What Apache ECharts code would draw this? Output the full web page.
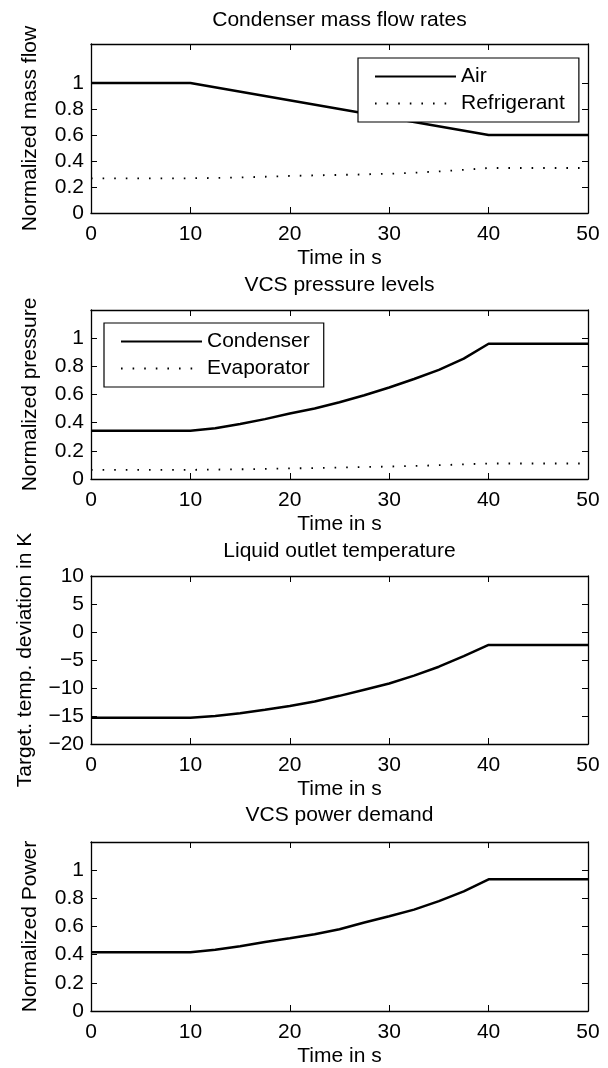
<!DOCTYPE html>
<html>
<head>
<meta charset="utf-8">
<script src="https://cdn.jsdelivr.net/npm/echarts@6/dist/echarts.min.js"></script>
<style>
  html, body { margin: 0; padding: 0; background: #fff; }
  #main { width: 608px; height: 1068px; }
</style>
</head>
<body>
<div id="main"></div>
<script>
// time grid of the curves (s)
var timeAir = [0, 10, 40, 50];
var airFlow = [1, 1, 0.6, 0.6];

var tCurve = [0, 10, 12.5, 15, 17.5, 20, 22.5, 25, 27.5, 30, 32.5, 35, 37.5, 40, 50];
var refrigerantFlow = [0.267, 0.267, 0.27, 0.274, 0.279, 0.285, 0.289, 0.293, 0.297, 0.302, 0.31, 0.32, 0.332, 0.346, 0.346];
var condenserPressure = [0.342, 0.342, 0.36, 0.39, 0.425, 0.465, 0.5, 0.545, 0.595, 0.65, 0.71, 0.775, 0.855, 0.96, 0.96];
var evaporatorPressure = [0.065, 0.065, 0.067, 0.069, 0.072, 0.075, 0.078, 0.081, 0.085, 0.088, 0.093, 0.098, 0.104, 0.11, 0.11];
var outletTempDev = [-15.3, -15.3, -15.0, -14.5, -13.9, -13.2, -12.4, -11.4, -10.3, -9.2, -7.8, -6.2, -4.3, -2.3, -2.3];
var powerDemand = [0.417, 0.417, 0.435, 0.46, 0.49, 0.516, 0.545, 0.58, 0.628, 0.673, 0.72, 0.78, 0.85, 0.935, 0.935];

// ticks
var xTicks = [0, 10, 20, 30, 40, 50];
var yTicksNorm = [0, 0.2, 0.4, 0.6, 0.8, 1];
var yTicksTemp = [-20, -15, -10, -5, 0, 5, 10];

var titles = ['Condenser mass flow rates', 'VCS pressure levels', 'Liquid outlet temperature', 'VCS power demand'];
var yNames = ['Normalized mass flow', 'Normalized pressure', 'Target. temp. deviation in K', 'Normalized Power'];
var xName = 'Time in s';

function pairs(t, v) {
  var out = [];
  for (var i = 0; i < t.length; i++) out.push([t[i], v[i]]);
  return out;
}

var font = 'Liberation Sans, Arial, Helvetica, sans-serif';
var gridTops = [44, 310, 576, 842];
var gridHeights = [169, 169, 168, 169];
var yMax = [1.3, 1.2, 10, 1.2];
var yMin = [0, 0, -20, 0];
var yTickSets = [yTicksNorm, yTicksNorm, yTicksTemp, yTicksNorm];
var titleTops = [10, 275, 541, 805];
var yNameGaps = [50, 50, 55, 50];

var myChart = echarts.init(document.getElementById('main'));

var grids = [], xAxes = [], yAxes = [], titleList = [];
for (var i = 0; i < 4; i++) {
  grids.push({ left: 91, right: 20, top: gridTops[i], height: gridHeights[i], containLabel: false });
  titleList.push({
    text: titles[i], left: 339.5, top: titleTops[i], textAlign: 'center', padding: 0,
    textStyle: { fontFamily: font, fontSize: 21, fontWeight: 'normal', color: '#000' }
  });
  // bottom axis
  xAxes.push({
    type: 'value', gridIndex: i, min: 0, max: 50, interval: 10, position: 'bottom',
    name: xName, nameLocation: 'middle', nameGap: 35,
    nameTextStyle: { fontFamily: font, fontSize: 21, color: '#000' },
    axisLine: { show: true, onZero: false, lineStyle: { color: '#000', width: 1.3 } },
    axisTick: { show: true, inside: true, length: 6, lineStyle: { color: '#000' } },
    axisLabel: { show: true, margin: 11, fontFamily: font, fontSize: 21, color: '#000' },
    splitLine: { show: false }
  });
  // top mirror axis
  xAxes.push({
    type: 'value', gridIndex: i, min: 0, max: 50, interval: 10, position: 'top',
    axisLine: { show: true, onZero: false, lineStyle: { color: '#000', width: 1.3 } },
    axisTick: { show: true, inside: true, length: 6, lineStyle: { color: '#000' } },
    axisLabel: { show: false },
    splitLine: { show: false }
  });
  var yFmt = function (v) { return String(v).replace('-', '\u2212'); };
  // left axis
  yAxes.push({
    type: 'value', gridIndex: i, min: yMin[i], max: yMax[i], position: 'left',
    name: yNames[i], nameLocation: 'middle', nameGap: yNameGaps[i], nameRotate: 90,
    nameTextStyle: { fontFamily: font, fontSize: 21, color: '#000' },
    axisLine: { show: true, onZero: false, lineStyle: { color: '#000', width: 1.3 } },
    axisTick: { show: true, inside: true, length: 6, customValues: yTickSets[i], lineStyle: { color: '#000' } },
    axisLabel: { show: true, margin: 7, customValues: yTickSets[i], formatter: yFmt, fontFamily: font, fontSize: 21, color: '#000' },
    splitLine: { show: false }
  });
  // right mirror axis
  yAxes.push({
    type: 'value', gridIndex: i, min: yMin[i], max: yMax[i], position: 'right',
    axisLine: { show: true, onZero: false, lineStyle: { color: '#000', width: 1.3 } },
    axisTick: { show: true, inside: true, length: 6, customValues: yTickSets[i], lineStyle: { color: '#000' } },
    axisLabel: { show: false },
    splitLine: { show: false }
  });
}

function solid(name, idx, data) {
  return {
    name: name, type: 'line', xAxisIndex: idx * 2, yAxisIndex: idx * 2, data: data,
    symbol: 'none', silent: true, animation: false,
    lineStyle: { color: '#000', width: 2.5, type: 'solid' }, itemStyle: { color: '#000' }
  };
}
function dotted(name, idx, data) {
  return {
    name: name, type: 'line', xAxisIndex: idx * 2, yAxisIndex: idx * 2, data: data,
    symbol: 'none', silent: true, animation: false,
    lineStyle: { color: '#000', width: 1.8, type: [1.6, 10] }, itemStyle: { color: '#000' }
  };
}

var legendBase = {
  orient: 'vertical', itemWidth: 81, itemHeight: 14, itemGap: 6,
  padding: [8, 14, 8, 16], borderColor: '#000', borderWidth: 1.2, backgroundColor: '#fff',
  borderRadius: 0, selectedMode: false,
  itemStyle: { opacity: 0 },
  textStyle: { fontFamily: font, fontSize: 21, color: '#000', lineHeight: 20 }
};

var option = {
  animation: false,
  backgroundColor: '#fff',
  title: titleList,
  legend: [
    Object.assign({}, legendBase, { left: 358, top: 58, data: ['Air', 'Refrigerant'] }),
    Object.assign({}, legendBase, { left: 104, top: 323, data: ['Condenser', 'Evaporator'] })
  ],
  grid: grids,
  xAxis: xAxes,
  yAxis: yAxes,
  series: [
    solid('Air', 0, pairs(timeAir, airFlow)),
    dotted('Refrigerant', 0, pairs(tCurve, refrigerantFlow)),
    solid('Condenser', 1, pairs(tCurve, condenserPressure)),
    dotted('Evaporator', 1, pairs(tCurve, evaporatorPressure)),
    solid('Outlet', 2, pairs(tCurve, outletTempDev)),
    solid('Power', 3, pairs(tCurve, powerDemand))
  ]
};

myChart.setOption(option);
</script>
</body>
</html>
